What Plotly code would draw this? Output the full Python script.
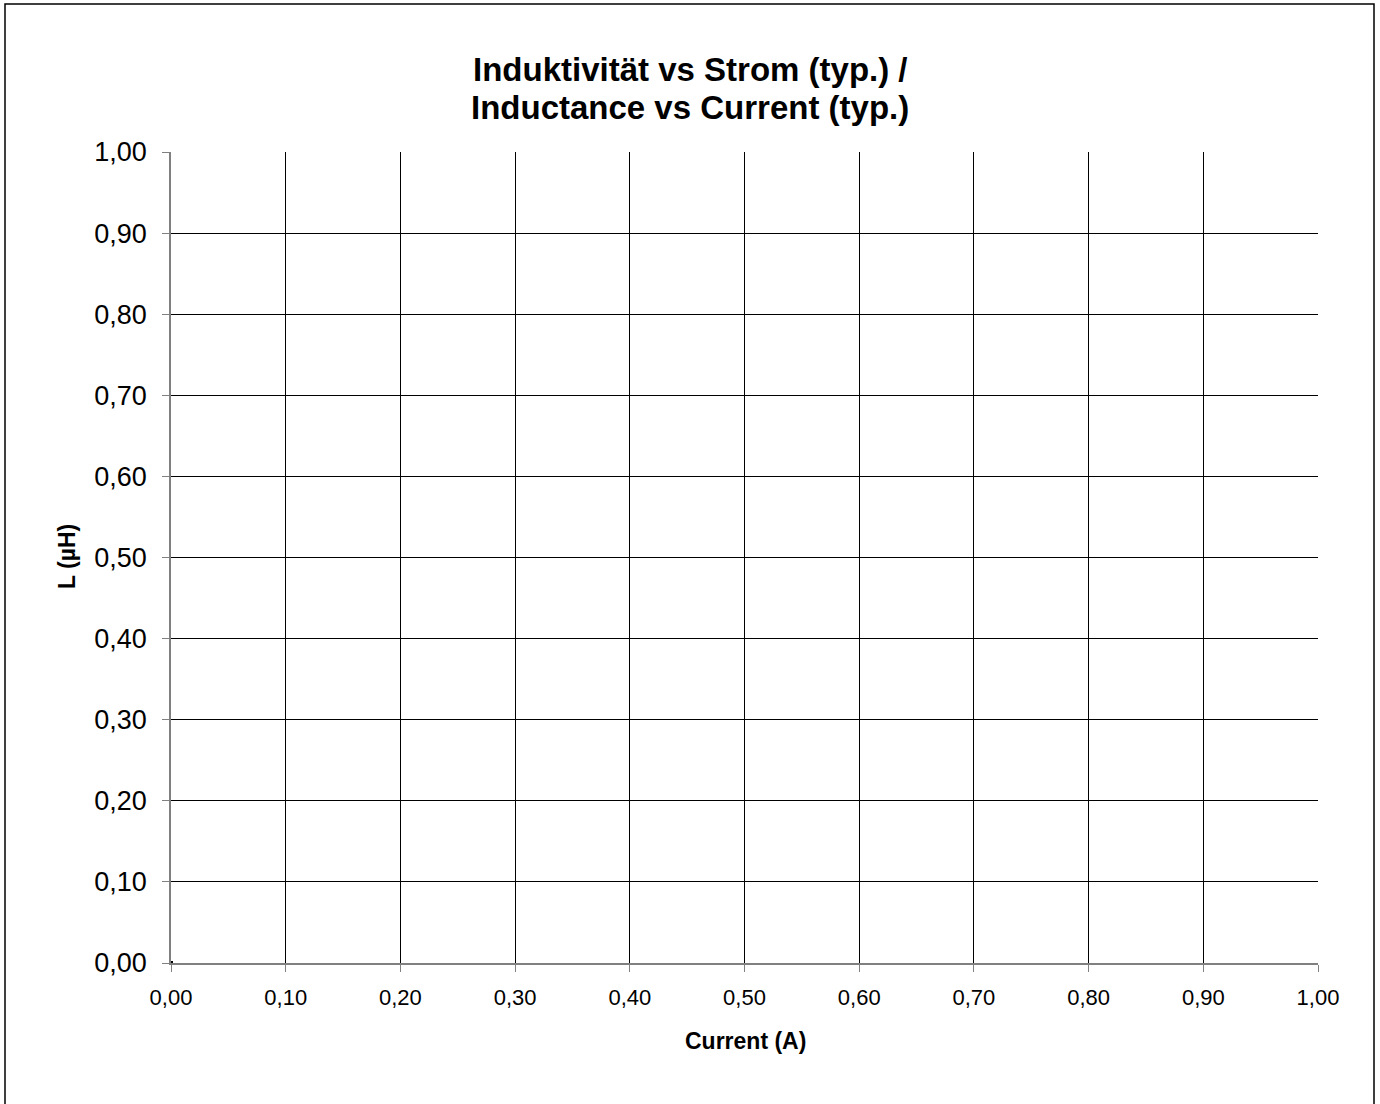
import plotly.graph_objects as go

current_a = [0.0]
inductance_uh = [0.0]
x_ticks = [0.0, 0.1, 0.2, 0.3, 0.4, 0.5, 0.6, 0.7, 0.8, 0.9, 1.0]
y_ticks = [0.0, 0.1, 0.2, 0.3, 0.4, 0.5, 0.6, 0.7, 0.8, 0.9, 1.0]

W, H = 1380, 1104
L, R, T, B = 171, 62, 152, 141
pw, ph = W - L - R, H - T - B

def px(x):
    return (x - L) / pw

def py(y):
    return (H - B - y) / ph

fig = go.Figure()
fig.add_trace(go.Scatter(
    x=current_a, y=inductance_uh, mode="markers",
    marker=dict(symbol="square", size=4, color="black"),
    showlegend=False, cliponaxis=False, hoverinfo="skip",
))

font = "Liberation Sans, Arial, sans-serif"
axis_common = dict(
    range=[0, 1], tickformat=".2f",
    showgrid=True, gridcolor="#000000", gridwidth=1,
    showline=True, linecolor="#808080", linewidth=1.5, mirror=False,
    ticks="outside", ticklen=7, tickcolor="#808080", tickwidth=1,
    zeroline=False,
)
fig.update_layout(
    width=W, height=H,
    margin=dict(l=L, r=R, t=T, b=B, autoexpand=False),
    paper_bgcolor="white", plot_bgcolor="white",
    separators=",.",
    font=dict(family=font, color="black"),
    xaxis=dict(tickvals=x_ticks, tickfont=dict(size=22, family=font), ticklabelstandoff=7, **axis_common),
    yaxis=dict(tickvals=y_ticks, tickfont=dict(size=27, family=font), ticklabelstandoff=10, **axis_common),
    annotations=[
        dict(text="<b>Induktivität vs Strom (typ.) /</b>", xref="paper", yref="paper",
             x=px(690), y=py(69), xanchor="center", yanchor="middle", showarrow=False,
             font=dict(size=33, family=font, color="black")),
        dict(text="<b>Inductance vs Current (typ.)</b>", xref="paper", yref="paper",
             x=px(690), y=py(108), xanchor="center", yanchor="middle", showarrow=False,
             font=dict(size=33, family=font, color="black")),
        dict(text="<b>Current (A)</b>", xref="paper", yref="paper",
             x=px(745), y=py(1041), xanchor="center", yanchor="middle", showarrow=False,
             font=dict(size=23, family=font, color="black")),
        dict(text="<b>L (µH)</b>", xref="paper", yref="paper",
             x=px(67), y=py(557), xanchor="center", yanchor="middle", showarrow=False,
             textangle=-90, font=dict(size=23, family=font, color="black")),
    ],
    shapes=[dict(
        type="rect", xref="paper", yref="paper",
        x0=px(5), x1=px(1374), y0=py(1115), y1=py(4),
        line=dict(color="black", width=1.5), fillcolor="rgba(0,0,0,0)", layer="above",
    )],
)

fig.write_html("out.html", config={"displayModeBar": False},
               post_script="document.body.style.margin='0px';")
